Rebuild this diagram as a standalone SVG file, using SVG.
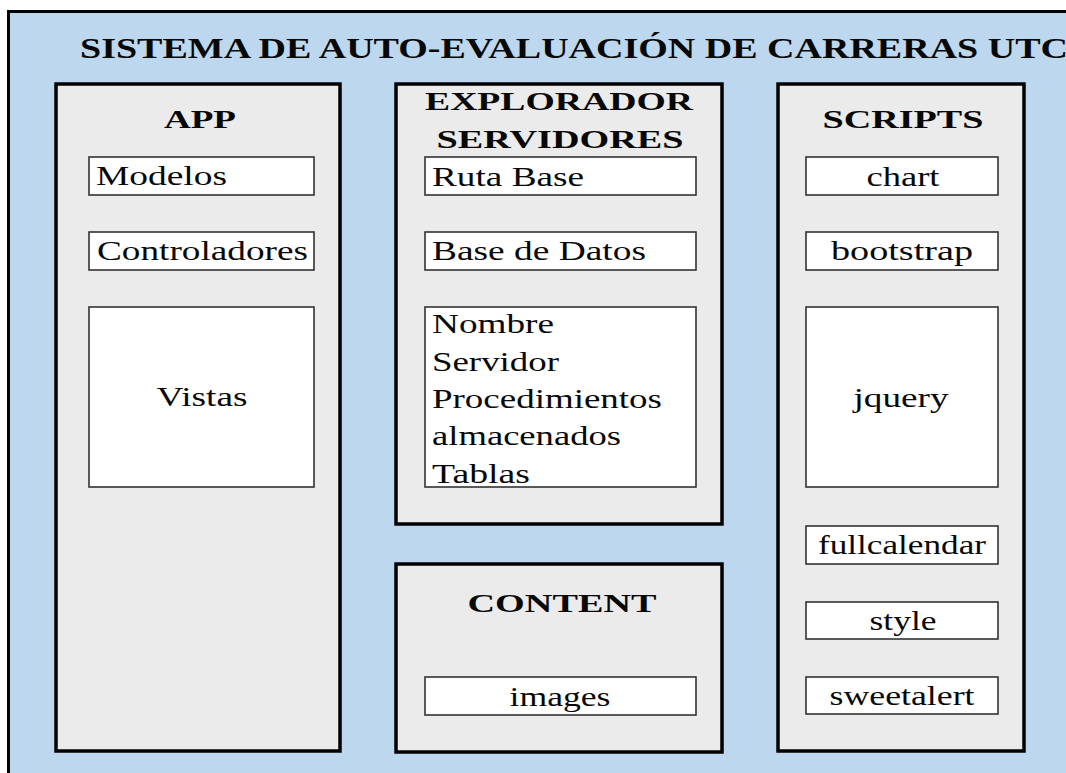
<svg xmlns="http://www.w3.org/2000/svg" width="1066" height="773" viewBox="0 0 1066 773">
<style>
.t{font-family:"Liberation Serif","Times New Roman",serif;fill:#080808}
.h{font-weight:bold;font-size:25px}
.b{font-size:28px}
.c{text-anchor:middle}
.grp{fill:#EBEBEB;stroke:#000;stroke-width:3.5}
.box{fill:#FFFFFF;stroke:#333;stroke-width:1.6}
</style>
<rect width="1066" height="773" fill="#FFFFFF"/>
<g id="sistema">
<rect x="8.5" y="11.5" width="1100" height="800" fill="#BDD7EE" stroke="#000" stroke-width="3"/>
<text class="t" x="80" y="58" font-size="30" font-weight="bold" textLength="988" lengthAdjust="spacingAndGlyphs">SISTEMA DE AUTO-EVALUACIÓN DE CARRERAS UTC</text>
</g>
<g id="app">
<rect class="grp" x="56" y="84" width="284" height="667"/>
<text class="t h c" x="200" y="128" textLength="72" lengthAdjust="spacingAndGlyphs">APP</text>
</g>
<g id="modelos"><rect class="box" x="89" y="157" width="225" height="38"/><text class="t b" x="96" y="185" textLength="131" lengthAdjust="spacingAndGlyphs">Modelos</text></g>
<g id="controladores"><rect class="box" x="89" y="232" width="225" height="38"/><text class="t b" x="97" y="260" textLength="211" lengthAdjust="spacingAndGlyphs">Controladores</text></g>
<g id="vistas"><rect class="box" x="89" y="307" width="225" height="180"/><text class="t b c" x="202" y="406" textLength="91" lengthAdjust="spacingAndGlyphs">Vistas</text></g>
<g id="explorador">
<rect class="grp" x="396" y="84" width="326" height="440"/>
<text class="t h c" x="559" y="110" textLength="268" lengthAdjust="spacingAndGlyphs">EXPLORADOR</text>
<text class="t h c" x="560" y="148" textLength="247" lengthAdjust="spacingAndGlyphs">SERVIDORES</text>
</g>
<g id="ruta-base"><rect class="box" x="425" y="157" width="271" height="38"/><text class="t b" x="432" y="186" textLength="152" lengthAdjust="spacingAndGlyphs">Ruta Base</text></g>
<g id="base-datos"><rect class="box" x="425" y="232" width="271" height="38"/><text class="t b" x="432" y="260" textLength="214" lengthAdjust="spacingAndGlyphs">Base de Datos</text></g>
<g id="detalle-servidor"><rect class="box" x="425" y="307" width="271" height="180"/>
<text class="t b" x="432" y="333" textLength="122" lengthAdjust="spacingAndGlyphs">Nombre</text>
<text class="t b" x="432" y="371" textLength="127" lengthAdjust="spacingAndGlyphs">Servidor</text>
<text class="t b" x="432" y="408" textLength="230" lengthAdjust="spacingAndGlyphs">Procedimientos</text>
<text class="t b" x="432" y="445" textLength="189" lengthAdjust="spacingAndGlyphs">almacenados</text>
<text class="t b" x="432" y="483" textLength="98" lengthAdjust="spacingAndGlyphs">Tablas</text>
</g>
<g id="content">
<rect class="grp" x="396" y="564" width="326" height="188"/>
<text class="t h c" x="562" y="612" textLength="189" lengthAdjust="spacingAndGlyphs">CONTENT</text>
</g>
<g id="images"><rect class="box" x="425" y="677" width="271" height="38"/><text class="t b c" x="560" y="706" textLength="101" lengthAdjust="spacingAndGlyphs">images</text></g>
<g id="scripts">
<rect class="grp" x="778" y="84" width="246" height="667"/>
<text class="t h c" x="903" y="128" textLength="161" lengthAdjust="spacingAndGlyphs">SCRIPTS</text>
</g>
<g id="chart"><rect class="box" x="806" y="157" width="192" height="38"/><text class="t b c" x="903" y="186" textLength="73" lengthAdjust="spacingAndGlyphs">chart</text></g>
<g id="bootstrap"><rect class="box" x="806" y="232" width="192" height="38"/><text class="t b c" x="902" y="260" textLength="142" lengthAdjust="spacingAndGlyphs">bootstrap</text></g>
<g id="jquery"><rect class="box" x="806" y="307" width="192" height="180"/><text class="t b c" x="901" y="407" textLength="95" lengthAdjust="spacingAndGlyphs">jquery</text></g>
<g id="fullcalendar"><rect class="box" x="806" y="526" width="192" height="38"/><text class="t b c" x="902" y="554" textLength="168" lengthAdjust="spacingAndGlyphs">fullcalendar</text></g>
<g id="style"><rect class="box" x="806" y="602" width="192" height="37"/><text class="t b c" x="903" y="630" textLength="67" lengthAdjust="spacingAndGlyphs">style</text></g>
<g id="sweetalert"><rect class="box" x="806" y="677" width="192" height="37"/><text class="t b c" x="902" y="705" textLength="145" lengthAdjust="spacingAndGlyphs">sweetalert</text></g>
<g id="connectors"/>
</svg>
